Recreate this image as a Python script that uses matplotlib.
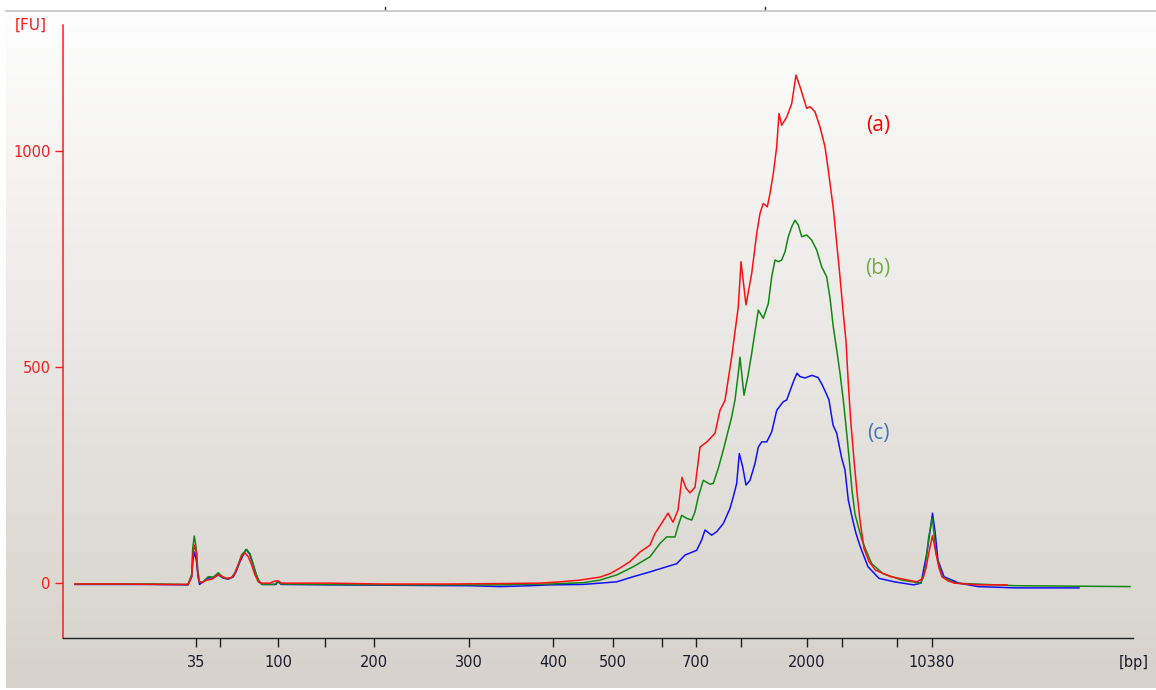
import numpy as np
import matplotlib
matplotlib.use("Agg")
import matplotlib.pyplot as plt
from matplotlib.lines import Line2D

# ---- data (x = migration position on the electropherogram time axis) ----
tick_pos = [196, 220, 278, 325, 374, 469, 553, 613, 662, 696, 741, 807, 842, 897, 932]
tick_lbl = ["35", "", "100", "", "200", "300", "400", "500", "", "700", "", "2000", "", "", "10380"]
y_ticks = [0, 500, 1000]

red_x = [75, 120, 160, 188, 191.7, 192.7, 194.3, 196.7, 197.7, 199.3, 201.7, 206.7, 211.7, 215, 218.3,
         221.7, 226.7, 231.7, 235, 238.3, 241.7, 245, 248.3, 251.7, 255, 258.3, 261.7, 270, 275, 278.3,
         281.7, 330, 380, 450, 500, 540, 560, 580, 600, 610, 620, 630, 640, 650, 655, 662, 668, 673, 678,
         682, 686, 690, 695, 700, 707, 715, 720, 725, 731.7, 738.3, 741, 746, 751.7, 756.7, 760, 763.3,
         767.3, 770, 773.3, 776.7, 779, 781.7, 786.7, 791.7, 796, 800, 806.7, 810, 815, 820, 825, 828.3,
         833.3, 836.7, 840, 843.3, 846, 848.3, 850.7, 854, 857, 860, 864, 869, 875.5, 890.7, 910, 917,
         923, 926, 928.7, 932.5, 936, 939, 942, 948, 955, 978, 1007]
red_y = [-2, -2, -3, -3, 15, 61, 88, 69, 26, 3, 1, 7, 9, 14, 19,
         16, 11, 13, 24, 42, 62, 70, 61, 42, 19, 3, 0, 0, 5, 5,
         0, 0, -2, -2, -1, 0, 3, 7, 14, 22, 35, 50, 72, 88, 115, 140, 162, 141, 169,
         245, 220, 209, 222, 315, 327, 347, 400, 423, 524, 640, 744, 644, 717, 809, 856, 879,
         871, 902, 948, 1010, 1087, 1060, 1079, 1110, 1176, 1149, 1099, 1103, 1091, 1056, 1010, 956,
         867, 787, 709, 624, 560, 462, 377, 285, 210, 146, 80, 50, 30, 15, 6, 3,
         11, 35, 69, 110, 69, 35, 15, 5, 0, -4, -4]

green_x = [75, 150, 188, 191.7, 192.7, 194.3, 196, 197.7, 199.3, 203, 208.3, 213.3, 218.3, 223.3, 228,
           232, 235, 238.3, 241.7, 246.7, 250, 253, 256, 259, 262, 275, 278, 281, 330, 400, 500, 550,
           583.3, 600, 616.7, 633.3, 650, 660, 666.7, 675, 678.3, 681.7, 686.7, 691.7, 695, 698.3, 703.3,
           710, 713.3, 718.3, 723.3, 728.3, 731.7, 735, 738, 740, 744, 748, 751.7, 758.3, 763.3, 768.3,
           771.7, 775, 778.3, 781.7, 785, 788.3, 791.7, 795, 798.3, 801.7, 806.7, 811.7, 816.7, 821.7,
           826.7, 830, 833.3, 836.7, 840, 843.3, 846.7, 849.3, 852, 855, 858.4, 862, 866, 871.7, 883, 902,
           921, 925, 928.7, 932.5, 936, 942, 955, 1016, 1130]
green_y = [-2, -2, -3, 20, 80, 109, 85, 30, 3, 3, 15, 14, 24, 13, 10,
           14, 24, 44, 66, 78, 68, 46, 22, 5, -3, -3, 4, -2, -3, -4, -4, -2,
           1, 7, 19, 38, 61, 92, 107, 107, 134, 157, 150, 146, 165, 200, 238,
           229, 231, 266, 308, 354, 385, 424, 480, 523, 435, 480, 532, 632, 613, 647,
           709, 748, 744, 748, 767, 802, 825, 840, 829, 802, 806, 794, 771, 732,
           709, 660, 593, 540, 486, 424, 347, 285, 215, 160, 130, 100, 76, 45, 22, 7,
           0, 30, 107, 150, 69, 15, 0, -6, -8]

blue_x = [75, 150, 188, 191.7, 193, 194.5, 196.5, 198, 199.5, 203, 208, 213, 218, 223, 228, 233, 236,
          240, 246, 249.5, 253, 256, 259, 262, 276, 278, 281, 330, 400, 470, 500, 530, 550, 583.3,
          616.7, 633.3, 650, 666.7, 676.7, 685, 696.7, 701.7, 705, 711.7, 716.7, 723.3, 730, 733.3,
          736.7, 739.3, 742.7, 746, 750, 755, 758.3, 761.7, 766.7, 771.7, 776.7, 783.3, 786.7, 790, 794,
          797, 800, 805, 812, 818, 822, 826, 829, 833, 836.7, 841.7, 845, 848.3, 852.7, 856, 860.3, 868,
          879, 894.5, 913.5, 921, 926.8, 930.6, 932.5, 935, 938, 944, 959, 978, 1016, 1079]
blue_y = [-3, -3, -4, 15, 55, 72, 50, 15, -3, 3, 12, 12, 20, 12, 9, 14, 26,
          50, 78, 68, 44, 20, 3, -3, -3, 4, -3, -4, -5, -6, -8, -6, -4, -3,
          3, 15, 26, 38, 45, 65, 76, 100, 123, 111, 119, 138, 173, 200,
          231, 300, 269, 227, 238, 277, 315, 327, 327, 350, 400, 420, 424, 445, 470,
          486, 478, 475, 481, 476, 460, 440, 424, 366, 347, 289, 262, 192, 146, 115, 84, 38,
          11, 3, -4, 0, 69, 130, 162, 120, 53, 15, 0, -8, -11, -11]

labels = ["(a)", "(b)", "(c)"]
label_y = [1060, 729, 347]

# ---- figure ----
W, H = 1156, 690
fig = plt.figure(figsize=(W / 100, H / 100), dpi=100)
fig.patch.set_facecolor("white")

# background gradient panel
bg = fig.add_axes([6 / W, 2 / H, 1150 / W, 677 / H], zorder=0)
top_c = np.array([254, 254, 254]) / 255
bot_c = np.array([214, 210, 203]) / 255
t = np.linspace(0, 1, 256)[:, None]
grad = top_c[None, :] * (1 - t) + bot_c[None, :] * t
bg.imshow(grad[:, None, :].repeat(2, axis=1), aspect="auto", extent=[0, 1, 0, 1])
bg.set_axis_off()

# top frame line with tiny marks
fig.add_artist(Line2D([6 / W, 1], [1 - 10.5 / H, 1 - 10.5 / H], color="#c4c4c4", lw=1.2))
for xm in (385, 765):
    fig.add_artist(Line2D([xm / W, xm / W], [1 - 7 / H, 1 - 9 / H], color="#303030", lw=1.0))

ax = fig.add_axes([63 / W, (H - 638) / H, (1133 - 63) / W, (638 - 25) / H], zorder=1)
ax.patch.set_alpha(0)

RED = "#ff1a1a"
ax.plot(blue_x, blue_y, color="#1010ff", lw=1.1, zorder=2)
ax.plot(green_x, green_y, color="#128812", lw=1.1, zorder=3)
ax.plot(red_x, red_y, color="#ff1010", lw=1.1, zorder=4)

ax.set_xlim(63, 1133)
ax.set_ylim(-127, 1292)

for s in ("top", "right"):
    ax.spines[s].set_visible(False)
ax.spines["left"].set_color(RED)
ax.spines["left"].set_linewidth(1.1)
ax.spines["bottom"].set_color("#202020")
ax.spines["bottom"].set_linewidth(1.0)

ax.set_yticks(y_ticks)
ax.set_yticklabels([str(v) for v in y_ticks])
ax.tick_params(axis="y", colors=RED, labelcolor=RED, length=6, width=1.0, pad=3, labelsize=10.5)
ax.set_xticks(tick_pos)
ax.set_xticklabels(tick_lbl)
ax.tick_params(axis="x", colors="#202020", labelcolor="#1a1a30", length=6.5, width=1.0, pad=6,
               labelsize=10.5)

fig.text(31 / W, 1 - 25 / H, "[FU]", color=RED, fontsize=11, ha="center", va="center")
fig.text(1134 / W, 1 - 662 / H, "[bp]", color="#1a1a30", fontsize=10.5, ha="center", va="center")

label_colors = ["#ff0000", "#70ad47", "#4472c4"]
for lab, yy, c in zip(labels, label_y, label_colors):
    ax.text(878, yy, lab, color=c, fontsize=15, ha="center", va="center", family="Open Sans")

fig.savefig("out.png", dpi=100, facecolor=fig.get_facecolor())
